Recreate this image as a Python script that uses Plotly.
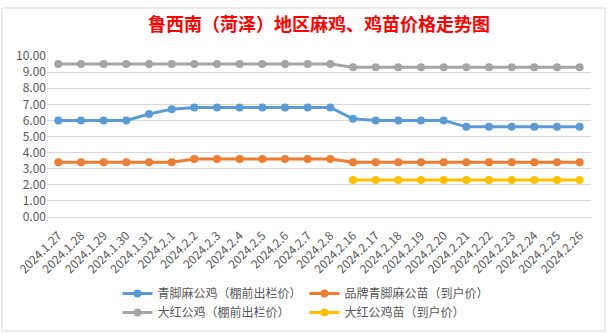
import plotly.graph_objects as go

categories = ["2024.1.27", "2024.1.28", "2024.1.29", "2024.1.30", "2024.1.31",
              "2024.2.1", "2024.2.2", "2024.2.3", "2024.2.4", "2024.2.5", "2024.2.6",
              "2024.2.7", "2024.2.8", "2024.2.16", "2024.2.17", "2024.2.18", "2024.2.19",
              "2024.2.20", "2024.2.21", "2024.2.22", "2024.2.23", "2024.2.24", "2024.2.25",
              "2024.2.26"]

qingjiao_gongji = [6.0, 6.0, 6.0, 6.0, 6.4, 6.7, 6.8, 6.8, 6.8, 6.8, 6.8, 6.8, 6.8,
                   6.1, 6.0, 6.0, 6.0, 6.0, 5.6, 5.6, 5.6, 5.6, 5.6, 5.6]
pinpai_miao = [3.4, 3.4, 3.4, 3.4, 3.4, 3.4, 3.6, 3.6, 3.6, 3.6, 3.6, 3.6, 3.6,
               3.4, 3.4, 3.4, 3.4, 3.4, 3.4, 3.4, 3.4, 3.4, 3.4, 3.4]
dahong_gongji = [9.5, 9.5, 9.5, 9.5, 9.5, 9.5, 9.5, 9.5, 9.5, 9.5, 9.5, 9.5, 9.5,
                 9.3, 9.3, 9.3, 9.3, 9.3, 9.3, 9.3, 9.3, 9.3, 9.3, 9.3]
dahong_miao = [None] * 13 + [2.3] * 11

series = [
    ("青脚麻公鸡（棚前出栏价）", qingjiao_gongji, "#5B9BD5"),
    ("品牌青脚麻公苗（到户价）", pinpai_miao, "#ED7D31"),
    ("大红公鸡（棚前出栏价）", dahong_gongji, "#A5A5A5"),
    ("大红公鸡苗（到户价）", dahong_miao, "#FFC000"),
]

FONT = "Noto Sans CJK SC"
fig = go.Figure()
for name, vals, color in series:
    fig.add_trace(go.Scatter(
        x=categories, y=vals, name=name, mode="lines+markers",
        line=dict(color=color, width=3),
        marker=dict(color=color, size=8),
        connectgaps=False,
    ))

W, H = 609, 333
ml, mr, mt, mb = 47, 18, 56, 116
pw, ph = W - ml - mr, H - mt - mb

def px_x(x):
    return (x - ml) / pw

def px_y(y):
    return (H - mb - y) / ph

fig.update_layout(
    width=W, height=H,
    margin=dict(l=ml, r=mr, t=mt, b=mb, autoexpand=False),
    paper_bgcolor="white", plot_bgcolor="white",
    font=dict(family=FONT, color="#595959", size=12),
    title=dict(text="<b>鲁西南（菏泽）地区麻鸡、鸡苗价格走势图</b>",
               x=0.5, xref="paper", xanchor="center",
               y=1 - 25 / H, yanchor="middle",
               font=dict(family=FONT, size=18, color="#FF0000")),
    xaxis=dict(
        type="category", tickangle=-45, tickfont=dict(size=12, color="#595959"),
        showgrid=False, showline=True, linecolor="#D9D9D9", ticks="",
        ticklabelstandoff=6, automargin=False,
        range=[-0.5, len(categories) - 0.5],
    ),
    yaxis=dict(
        range=[0, 10], dtick=1, tickformat=".2f", automargin=False,
        showgrid=True, gridcolor="#D9D9D9", gridwidth=1,
        zeroline=True, zerolinecolor="#D9D9D9",
        showline=False, ticks="", tickfont=dict(size=12, color="#595959"),
    ),
    legend=dict(
        orientation="h", xref="container", yref="container",
        x=0.5, xanchor="center", y=1 - 279 / H, yanchor="top",
        entrywidth=142, entrywidthmode="pixels",
        font=dict(size=12, color="#595959"),
        tracegroupgap=0, itemwidth=30,
    ),
    showlegend=True,
    shapes=[dict(
        type="rect", xref="paper", yref="paper",
        x0=px_x(2), x1=px_x(605), y0=px_y(331), y1=px_y(8),
        line=dict(color="#D9D9D9", width=1), fillcolor="rgba(0,0,0,0)", layer="below",
    )],
)

fig.write_html("out.html")
